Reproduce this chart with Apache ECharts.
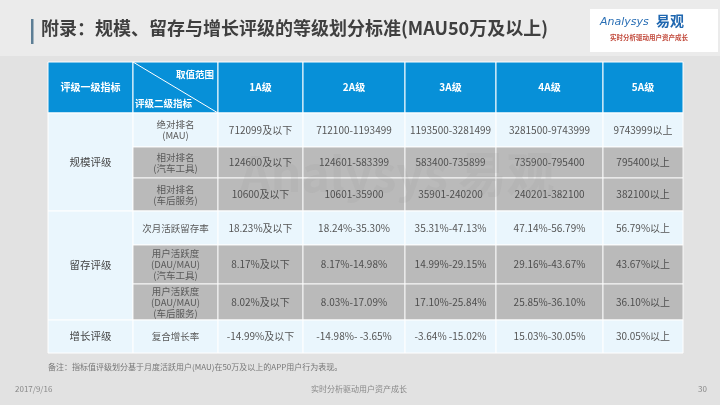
<!DOCTYPE html>
<html>
<head>
<meta charset="utf-8">
<script src="https://cdn.jsdelivr.net/npm/echarts@6/dist/echarts.min.js"></script>
<style>
  html, body { margin: 0; padding: 0; background: #e2e2e2; }
  #chart { width: 720px; height: 405px; }
</style>
</head>
<body>
<div id="chart"></div>
<script>
  // table content
  const grades = ['1A级', '2A级', '3A级', '4A级', '5A级']
  const level1 = ['规模评级', '留存评级', '增长评级']
  const level1Span = [3, 3, 1]
  const level2 = [
    '绝对排名\n(MAU)',
    '相对排名\n(汽车工具)',
    '相对排名\n(车后服务)',
    '次月活跃留存率',
    '用户活跃度\n(DAU/MAU)\n(汽车工具)',
    '用户活跃度\n(DAU/MAU)\n(车后服务)',
    '复合增长率'
  ]
  const ranges = [
    ['712099及以下', '712100-1193499', '1193500-3281499', '3281500-9743999', '9743999以上'],
    ['124600及以下', '124601-583399', '583400-735899', '735900-795400', '795400以上'],
    ['10600及以下', '10601-35900', '35901-240200', '240201-382100', '382100以上'],
    ['18.23%及以下', '18.24%-35.30%', '35.31%-47.13%', '47.14%-56.79%', '56.79%以上'],
    ['8.17%及以下', '8.17%-14.98%', '14.99%-29.15%', '29.16%-43.67%', '43.67%以上'],
    ['8.02%及以下', '8.03%-17.09%', '17.10%-25.84%', '25.85%-36.10%', '36.10%以上'],
    ['-14.99%及以下', '-14.98%- -3.65%', '-3.64% -15.02%', '15.03%-30.05%', '30.05%以上']
  ]
  const grayRows = [2, 3, 5, 6]

  // layout (table units)
  const colEdges = [0, 85, 170, 255, 357, 448, 555, 635]
  const rowEdges = [0, 51, 85, 116, 149, 183, 222, 258, 291]

  const FONT = '"Noto Sans CJK SC", "Noto Sans", sans-serif'
  const BLUE = '#0790d8'
  const LIGHT = '#eaf6fd'
  const GRAY = '#b3b3b3'

  const cells = []
  // header
  cells.push({ value: [0, 0, 0], text: '评级一级指标', kind: 'head' })
  cells.push({ value: [1, 0, 0], text: '', kind: 'diag' })
  grades.forEach((g, i) => cells.push({ value: [i + 2, 0, 0], text: g, kind: 'head' }))
  // first level (merged)
  let r = 1
  level1.forEach((name, i) => {
    cells.push({ value: [0, r, r + level1Span[i] - 1], text: name, kind: 'l1' })
    r += level1Span[i]
  })
  // second level + values
  level2.forEach((name, i) => {
    const row = i + 1
    const gray = grayRows.includes(row)
    cells.push({ value: [1, row, row], text: name, kind: gray ? 'l2g' : 'l2' })
    ranges[i].forEach((v, j) => {
      cells.push({ value: [j + 2, row, row], text: v, kind: gray ? 'vg' : 'v' })
    })
  })

  const chart = echarts.init(document.getElementById('chart'))

  function renderItem(params, api) {
    const c = api.value(0), r0 = api.value(1), r1 = api.value(2)
    const item = cells[params.dataIndex]
    const p0 = api.coord([colEdges[c], rowEdges[r0]])
    const p1 = api.coord([colEdges[c + 1], rowEdges[r1 + 1]])
    const x = p0[0], y = p0[1], w = p1[0] - p0[0], h = p1[1] - p0[1]
    let fill = LIGHT
    if (item.kind === 'head' || item.kind === 'diag') fill = BLUE
    else if (item.kind === 'l2g' || item.kind === 'vg') fill = GRAY
    const children = [{
      type: 'rect',
      shape: { x: x, y: y, width: w, height: h },
      style: { fill: fill, stroke: '#ffffff', lineWidth: 1, opacity: fill === GRAY ? 0.85 : 1 }
    }]
    if (item.kind === 'diag') {
      children.push({
        type: 'line',
        shape: { x1: x, y1: y, x2: x + w, y2: y + h },
        style: { stroke: '#ffffff', lineWidth: 1 }
      })
      children.push({
        type: 'text',
        style: { text: '取值范围', x: x + w - 4, y: y + 12, align: 'right', verticalAlign: 'middle',
          fill: '#fff', font: 'bold 9.5px ' + FONT }
      })
      children.push({
        type: 'text',
        style: { text: '评级二级指标', x: x + 2, y: y + h - 10, align: 'left', verticalAlign: 'middle',
          fill: '#fff', font: 'bold 9.5px ' + FONT }
      })
    } else {
      let color = '#555555', font = '10px ' + FONT, lh = 12
      if (item.kind === 'head') { color = '#ffffff'; font = 'bold 10px ' + FONT }
      if (item.kind === 'l1') { color = '#444444'; font = '10.5px ' + FONT }
      if (item.kind === 'l2' || item.kind === 'l2g') { color = '#5a5a5a'; font = '9.5px ' + FONT; lh = 11 }
      if (item.kind === 'vg') color = '#4e4e4e'
      children.push({
        type: 'text',
        style: { text: item.text, x: x + w / 2, y: y + h / 2, align: 'center', verticalAlign: 'middle',
          fill: color, font: font, lineHeight: lh }
      })
    }
    return { type: 'group', children: children }
  }

  chart.setOption({
    backgroundColor: '#e2e2e2',
    animation: false,
    grid: { left: 48, top: 62, width: 635, height: 291 },
    xAxis: { type: 'value', min: 0, max: 635, show: false },
    yAxis: { type: 'value', min: 0, max: 291, inverse: true, show: false },
    graphic: [
      { type: 'rect', shape: { x: 0, y: 0, width: 720, height: 56 }, style: { fill: '#ebebeb' }, z: -10 },
      { type: 'rect', shape: { x: 31, y: 19, width: 2.5, height: 25 }, style: { fill: '#5d7e95' } },
      { type: 'text', left: 41, top: 19,
        style: { text: '附录：规模、留存与增长评级的等级划分标准(MAU50万及以上)', fill: '#3f3f3f',
          font: 'bold 18px ' + FONT } },
      { type: 'rect', shape: { x: 590, y: 9, width: 128, height: 43 }, style: { fill: '#ffffff' } },
      { type: 'text', left: 600, top: 17,
        style: { text: 'Analysys', fill: '#2a6fb5', font: 'italic 11px "DejaVu Sans", sans-serif' } },
      { type: 'text', left: 656, top: 14,
        style: { text: '易观', fill: '#1f67b0', font: 'bold 14px ' + FONT } },
      { type: 'text', left: 610, top: 34,
        style: { text: '实时分析驱动用户资产成长', fill: '#c24a3c', font: 'bold 6.5px ' + FONT } },
      { type: 'text', left: 48, top: 363,
        style: { text: '备注：指标值评级划分基于月度活跃用户(MAU)在50万及以上的APP用户行为表现。', fill: '#777777',
          font: '8px ' + FONT } },
      { type: 'text', left: 15, top: 385,
        style: { text: '2017/9/16', fill: '#888888', font: '8px ' + FONT } },
      { type: 'text', left: 311, top: 385,
        style: { text: '实时分析驱动用户资产成长', fill: '#888888', font: '8px ' + FONT } },
      { type: 'text', left: 698, top: 385,
        style: { text: '30', fill: '#888888', font: '8px ' + FONT } },
      { type: 'text', left: 240, top: 150, z: 100,
        style: { text: 'Analysys 易观', fill: 'rgba(150,150,150,0.12)', font: 'bold 48px ' + FONT } }
    ],
    series: [{
      type: 'custom',
      renderItem: renderItem,
      data: cells,
      encode: { x: 0, y: [1, 2] },
      clip: false,
      silent: true
    }]
  })
</script>
</body>
</html>
